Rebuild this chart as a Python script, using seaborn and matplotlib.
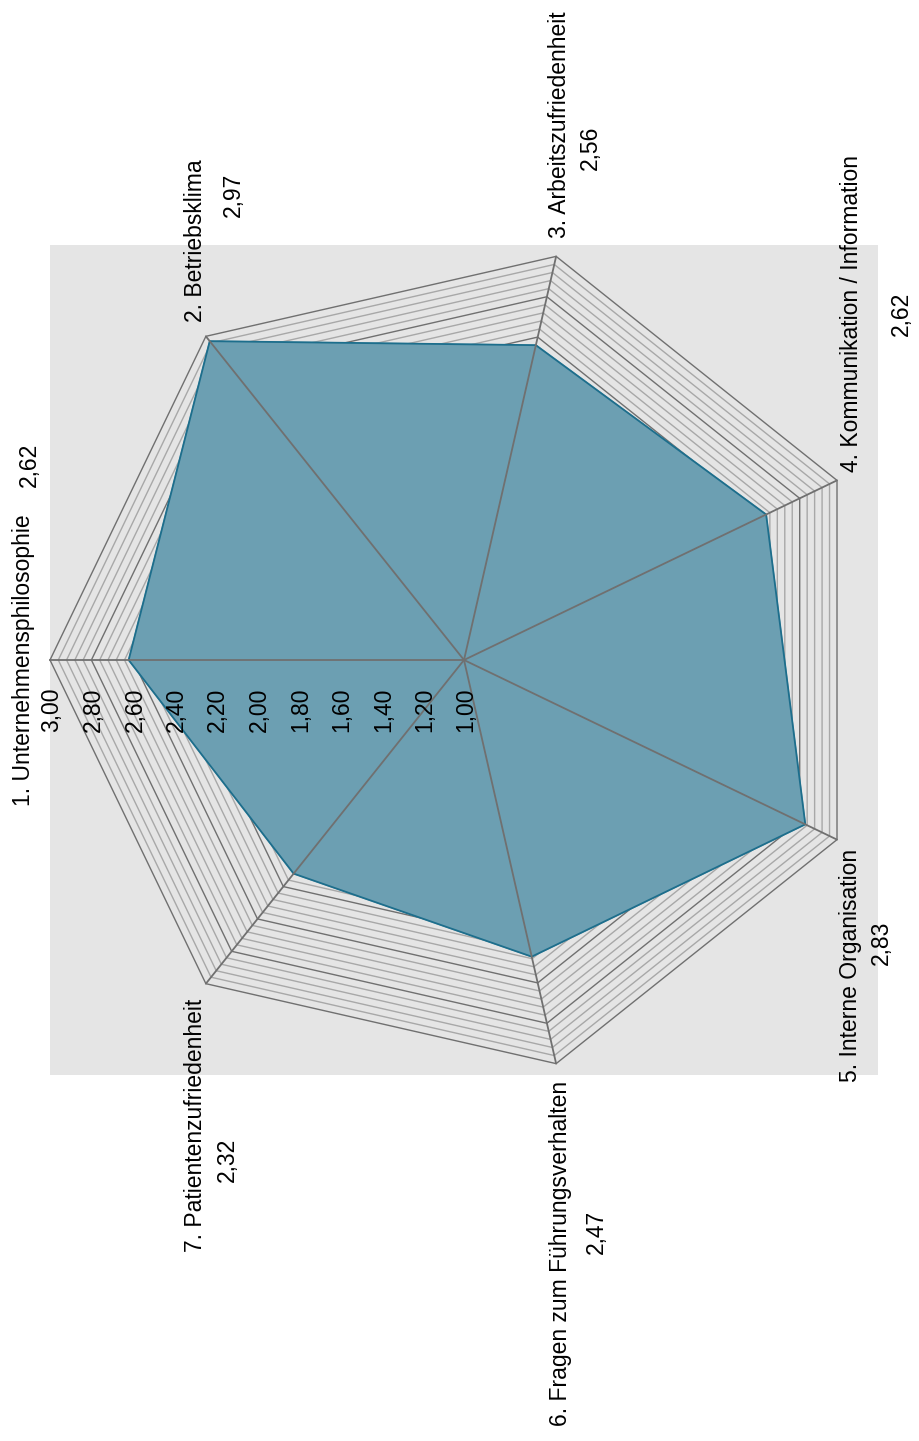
import numpy as np
import matplotlib
matplotlib.use("Agg")
import matplotlib.pyplot as plt
import seaborn as sns

# --- data ---
categories = [
    "1. Unternehmensphilosophie",
    "2. Betriebsklima",
    "3. Arbeitszufriedenheit",
    "4. Kommunikation / Information",
    "5. Interne Organisation",
    "6. Fragen zum Führungsverhalten",
    "7. Patientenzufriedenheit",
]
values = [2.62, 2.97, 2.56, 2.62, 2.83, 2.47, 2.32]
value_labels = ["2,62", "2,97", "2,56", "2,62", "2,83", "2,47", "2,32"]
tick_values = [1.0, 1.2, 1.4, 1.6, 1.8, 2.0, 2.2, 2.4, 2.6, 2.8, 3.0]
tick_labels = ["1,00", "1,20", "1,40", "1,60", "1,80", "2,00",
               "2,20", "2,40", "2,60", "2,80", "3,00"]

# text placement in pixels (x, y from top-left)
label_pos = [(24, 660), (196, 241), (560, 125), (851, 313),
             (851, 965), (560, 1253), (196, 1125)]
value_pos = [(29, 465), (233, 195), (590, 148), (901, 314),
             (881, 943), (596, 1232), (227, 1160)]

sns.set_style("white")
plt.rcParams["font.family"] = ["Liberation Sans", "DejaVu Sans"]
plt.rcParams["text.color"] = "black"

W, H = 919, 1441
fig = plt.figure(figsize=(W / 100, H / 100), dpi=100)
rect = [50 / W, 366 / H, 828 / W, 830 / H]

# grey panel behind the radar
bg = fig.add_axes(rect)
bg.set_facecolor("#e5e5e5")
bg.set_xticks([])
bg.set_yticks([])
for s in bg.spines.values():
    s.set_visible(False)

ax = fig.add_axes(rect, projection="polar")
ax.set_facecolor("none")
ax.set_theta_offset(np.pi)
ax.set_theta_direction(-1)
ax.set_ylim(1, 3)
ax.grid(False)
ax.set_xticks([])
ax.set_yticks([])
ax.spines["polar"].set_visible(False)

n = len(categories)
theta = np.arange(n) * 2 * np.pi / n
closed = np.append(theta, theta[0])

# polygon grid, every 0.04, darker every 0.2
levels = np.round(np.arange(1.04, 3.001, 0.04), 2)
for lv in levels:
    major = abs(lv * 5 - round(lv * 5)) < 1e-6
    ax.plot(closed, [lv] * (n + 1), color="#707070" if major else "#a8a8a8",
            lw=1.0, zorder=1, clip_on=False)

v = np.append(values, values[0])
ax.fill(closed, v, color="#6c9fb2", zorder=2, clip_on=False)
ax.plot(closed, v, color="#1d6e8c", lw=1.3, zorder=3, clip_on=False)

for t in theta:
    ax.plot([t, t], [1, 3], color="#707070", lw=1.3, zorder=4, clip_on=False)

for tv, tl in zip(tick_values, tick_labels):
    ax.annotate(tl, xy=(0, tv), xytext=(1.5, -36), textcoords="offset points",
                rotation=90, ha="center", va="center", fontsize=16.5,
                color="black", zorder=5, annotation_clip=False)

for (lx, ly), lab in zip(label_pos, categories):
    fig.text(lx / W, 1 - ly / H, lab, rotation=90, ha="center", va="center",
             fontsize=16.5, color="black")
for (vx, vy), lab in zip(value_pos, value_labels):
    fig.text(vx / W, 1 - vy / H, lab, rotation=90, ha="center", va="center",
             fontsize=16.5, color="black")

fig.savefig("out.png", dpi=100)
